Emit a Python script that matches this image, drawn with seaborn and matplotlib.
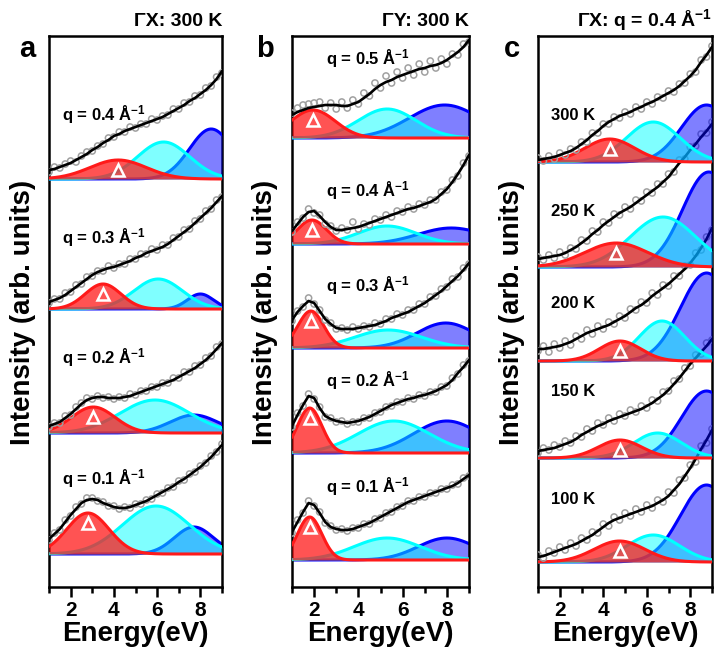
import numpy as np
import matplotlib
matplotlib.use('Agg')
from matplotlib import pyplot as plt
import seaborn as sns

sns.set_theme(style='ticks')
plt.rcParams['font.family'] = ['Liberation Sans', 'DejaVu Sans']
plt.rcParams['font.weight'] = 'bold'
plt.rcParams['text.color'] = 'black'
plt.rcParams['axes.labelcolor'] = 'black'
plt.rcParams['xtick.color'] = 'black'
plt.rcParams['mathtext.fontset'] = 'custom'
plt.rcParams['mathtext.rm'] = 'Liberation Sans:bold'
plt.rcParams['mathtext.it'] = 'Liberation Sans:bold'
plt.rcParams['mathtext.bf'] = 'Liberation Sans:bold'
plt.rcParams['mathtext.default'] = 'rm'

######## data (bottom spectrum first) #########

energy = [1.0, 1.25, 1.5, 1.75, 2.0, 2.25, 2.5, 2.75, 3.0, 3.25, 3.5, 3.75, 4.0,
          4.25, 4.5, 4.75, 5.0, 5.25, 5.5, 5.75, 6.0, 6.25, 6.5, 6.75, 7.0,
          7.25, 7.5, 7.75, 8.0, 8.25, 8.5, 8.75, 9.0]

# panel a: GX, 300 K
a_labels = ['q = 0.1 Å$^{-1}$', 'q = 0.2 Å$^{-1}$', 'q = 0.3 Å$^{-1}$', 'q = 0.4 Å$^{-1}$']
a_offsets = [33, 154, 278, 408]
a_fit = [
    [15, 20, 25, 32, 39, 45, 51, 54, 55, 54, 51, 49, 47, 46, 46, 47, 49, 51, 53, 56, 59, 62, 65, 68, 72, 75, 79, 83, 87, 92, 97, 103, 109],
    [7, 9, 11, 15, 19, 24, 29, 33, 35, 36, 36, 35, 35, 35, 36, 37, 39, 41, 43, 45, 47, 49, 51, 53, 56, 59, 62, 65, 69, 73, 78, 84, 90],
    [7, 9, 11, 14, 18, 22, 26, 30, 34, 37, 39, 41, 42, 44, 46, 48, 51, 53, 56, 58, 60, 62, 65, 69, 73, 77, 81, 86, 91, 96, 101, 107, 113],
    [9, 10, 12, 14, 16, 19, 22, 25, 29, 32, 36, 39, 43, 45, 48, 50, 52, 54, 56, 58, 60, 62, 65, 68, 71, 74, 78, 81, 85, 89, 94, 100, 108],
]
a_data = [
    [14, 21, 24, 34, 38, 47, 50, 56, 56, 53, 52, 48, 48, 45, 47, 46, 50, 50, 54, 55, 60, 61, 66, 67, 73, 74, 80, 82, 88, 91, 98, 102, 110],
    [6, 10, 10, 17, 18, 26, 30, 35, 34, 37, 35, 36, 34, 36, 35, 39, 38, 42, 42, 46, 46, 50, 50, 55, 55, 61, 61, 67, 68, 75, 77, 86, 89],
    [6, 10, 10, 16, 17, 24, 25, 32, 33, 38, 38, 43, 41, 45, 45, 50, 50, 55, 55, 60, 59, 64, 64, 71, 72, 79, 80, 88, 90, 98, 100, 109, 112],
    [7, 12, 11, 15, 18, 17, 23, 27, 28, 33, 35, 41, 42, 47, 47, 52, 51, 55, 55, 60, 59, 63, 64, 70, 70, 76, 77, 83, 84, 91, 93, 102, 106],
]
# peaks: (centre eV, sigma eV, height)
a_red = [(2.8, 0.98, 41), (3.05, 1.0, 26), (3.5, 0.82, 25), (4.2, 1.3, 19)]
a_cyan = [(5.95, 1.55, 48), (5.9, 1.6, 33), (6.05, 1.12, 30), (6.3, 1.2, 37)]
a_blue = [(7.7, 0.9, 27), (7.7, 1.1, 18), (8.0, 0.6, 15), (8.5, 1.0, 50)]

# panel b: GY, 300 K
b_labels = ['q = 0.1 Å$^{-1}$', 'q = 0.2 Å$^{-1}$', 'q = 0.3 Å$^{-1}$', 'q = 0.4 Å$^{-1}$', 'q = 0.5 Å$^{-1}$']
b_offsets = [27, 134, 239, 343, 449]
b_fit = [
    [28, 38, 48, 57, 55, 47, 38, 33, 31, 30, 30, 31, 33, 35, 37, 40, 43, 46, 49, 52, 55, 58, 60, 62, 64, 66, 68, 70, 72, 74, 77, 81, 85],
    [27, 38, 48, 57, 55, 45, 37, 34, 32, 31, 30, 31, 32, 34, 36, 39, 42, 45, 48, 50, 52, 54, 55, 57, 58, 60, 62, 65, 68, 73, 80, 86, 93],
    [28, 36, 42, 47, 45, 37, 29, 24, 20, 19, 19, 19, 20, 21, 22, 23, 25, 27, 30, 32, 34, 36, 39, 42, 45, 49, 53, 57, 62, 67, 72, 78, 85],
    [13, 20, 27, 32, 33, 28, 22, 17, 14, 14, 15, 16, 17, 19, 21, 23, 25, 27, 29, 31, 33, 35, 36, 38, 40, 42, 45, 50, 55, 62, 70, 79, 89],
    [23, 26, 28, 30, 31, 32, 33, 33, 33, 32, 32, 34, 36, 40, 44, 49, 53, 56, 58, 61, 63, 65, 67, 69, 70, 72, 73, 75, 78, 82, 86, 91, 98],
]
b_data = [
    [27, 40, 47, 59, 54, 48, 37, 34, 30, 31, 29, 32, 32, 36, 36, 41, 42, 47, 48, 53, 54, 59, 59, 63, 63, 67, 67, 71, 71, 75, 76, 82, 84],
    [26, 40, 47, 59, 54, 46, 36, 35, 31, 32, 29, 31, 31, 35, 35, 40, 41, 46, 47, 51, 51, 55, 54, 58, 57, 61, 61, 66, 67, 75, 79, 88, 92],
    [27, 37, 41, 50, 44, 38, 28, 25, 19, 20, 18, 21, 19, 22, 21, 25, 24, 29, 29, 34, 33, 38, 38, 44, 44, 51, 52, 59, 61, 69, 71, 80, 84],
    [12, 22, 26, 35, 31, 29, 20, 18, 13, 16, 14, 22, 15, 20, 19, 25, 24, 29, 27, 33, 32, 37, 35, 40, 39, 44, 44, 52, 54, 64, 68, 81, 88],
    [25, 30, 33, 34, 35, 36, 30, 35, 29, 36, 30, 38, 34, 45, 42, 55, 50, 62, 55, 66, 60, 70, 63, 74, 66, 77, 70, 79, 74, 84, 83, 94, 96],
]
b_red = [(1.8, 0.55, 43), (1.8, 0.55, 45), (1.85, 0.58, 37), (1.9, 0.65, 24), (1.95, 1.0, 28)]
b_cyan = [(5.3, 1.5, 22), (5.6, 1.6, 32), (5.35, 1.5, 18), (5.3, 1.3, 18), (5.3, 1.3, 29)]
b_blue = [(8.0, 1.3, 22), (8.0, 1.5, 32), (7.95, 1.3, 25), (8.2, 1.5, 16), (7.9, 1.6, 33)]

# panel c: GX, q = 0.4, temperature series
c_labels = ['100 K', '150 K', '200 K', '250 K', '300 K']
c_offsets = [25, 129, 226, 320, 425]
c_fit = [
    [5, 6, 8, 10, 12, 14, 16, 18, 21, 24, 27, 31, 35, 39, 42, 44, 46, 48, 50, 52, 54, 56, 59, 62, 66, 72, 78, 86, 94, 103, 113, 122, 132],
    [7, 8, 9, 10, 12, 14, 16, 19, 23, 26, 29, 32, 34, 37, 39, 41, 43, 45, 47, 49, 52, 55, 59, 63, 68, 74, 80, 87, 94, 100, 106, 112, 119],
    [12, 12, 13, 14, 15, 17, 19, 22, 25, 28, 30, 32, 34, 36, 39, 42, 45, 49, 53, 56, 60, 65, 69, 73, 77, 82, 87, 92, 98, 105, 113, 122, 133],
    [8, 9, 10, 11, 12, 14, 17, 20, 24, 28, 33, 37, 42, 46, 50, 54, 57, 60, 64, 68, 72, 76, 80, 85, 90, 97, 104, 110, 117, 123, 130, 136, 143],
    [2, 3, 4, 5, 7, 9, 11, 14, 18, 22, 27, 31, 36, 40, 43, 46, 48, 50, 53, 55, 58, 60, 63, 66, 69, 72, 76, 81, 86, 92, 100, 107, 115],
]
c_data = [
    [7, 4, 11, 9, 15, 12, 19, 16, 24, 22, 30, 29, 38, 36, 45, 42, 49, 46, 53, 50, 57, 54, 62, 60, 70, 69, 82, 84, 97, 100, 116, 119, 133],
    [5, 10, 8, 13, 11, 17, 15, 22, 21, 29, 27, 35, 33, 40, 37, 44, 42, 48, 46, 52, 50, 58, 57, 66, 67, 77, 79, 90, 92, 103, 104, 115, 118],
    [10, 15, 9, 17, 13, 20, 16, 25, 22, 31, 27, 35, 32, 39, 37, 45, 43, 52, 51, 59, 58, 68, 66, 76, 75, 85, 85, 95, 96, 108, 111, 124, 131],
    [10, 7, 12, 9, 15, 12, 19, 18, 27, 26, 36, 35, 45, 44, 53, 52, 60, 58, 67, 66, 75, 74, 83, 83, 93, 95, 107, 108, 120, 121, 133, 134, 145],
    [4, 1, 6, 3, 9, 7, 13, 12, 20, 20, 29, 29, 38, 38, 45, 44, 50, 48, 55, 53, 60, 58, 65, 64, 71, 70, 78, 79, 88, 90, 102, 105, 116],
]
c_red = [(4.75, 1.17, 21), (4.77, 1.0, 18), (4.77, 0.95, 20), (4.6, 1.45, 24), (4.3, 1.14, 23)]
c_cyan = [(6.3, 1.2, 27), (6.5, 1.1, 25), (6.7, 1.05, 40), (6.75, 1.5, 50), (6.3, 1.23, 40)]
c_blue = [(8.75, 1.2, 77), (8.75, 1.15, 67), (8.75, 1.2, 88), (8.85, 1.2, 95), (8.75, 1.15, 57)]

efine = np.linspace(1, 9, 321)


def gauss(p):
    c, s, a = p
    return a * np.exp(-(efine - c) ** 2 / (2 * s ** 2))


def draw_panel(ax, labels, offsets, fit, data, red, cyan, blue, label_x, label_dy):
    x = np.array(energy)
    for i in range(len(labels)):
        base = offsets[i]
        z = 10 * i
        comps = [(blue[i], '#0000ff', 0.5), (cyan[i], '#00ffff', 0.5), (red[i], '#ff1a1a', 0.75)]
        for k, (p, col, alpha) in enumerate(comps):
            g = base + gauss(p)
            ax.fill_between(efine, base, g, color=col, alpha=alpha, lw=0, zorder=z + 2 * k + 1)
            ax.plot(efine, g, color=col, lw=2.2, zorder=z + 2 * k + 2)
        sns.scatterplot(x=x, y=np.array(data[i]) + base, ax=ax, s=20, marker='o',
                        facecolor='none', edgecolor='#a0a0a0', linewidth=1.1, zorder=z + 7)
        sns.lineplot(x=x, y=np.array(fit[i]) + base, ax=ax, color='black', lw=1.9,
                     sort=False, estimator=None, zorder=z + 8)
        c, s, a = red[i]
        ax.plot(c, base + a - 10, marker='^', ms=9, mfc='none', mec='white', mew=1.8, zorder=z + 9)
        ax.text(label_x, base + label_dy[i], labels[i], fontsize=12, fontweight='bold',
                ha='left', va='center', zorder=100)

    ax.set_xlim(1, 9)
    ax.set_ylim(0, 551)
    ax.set_xticks([2, 4, 6, 8])
    ax.set_xticks([1, 3, 5, 7, 9], minor=True)
    ax.set_yticks([])
    ax.tick_params(axis='x', which='major', direction='out', length=7, width=1.8,
                   labelsize=15, pad=3, colors='black')
    ax.tick_params(axis='x', which='minor', direction='out', length=4, width=1.8, colors='black')
    for lab in ax.get_xticklabels():
        lab.set_fontweight('bold')
    for sp in ax.spines.values():
        sp.set_visible(True)
        sp.set_linewidth(1.8)
        sp.set_color('black')
    ax.set_xlabel('Energy(eV)', fontsize=20, fontweight='bold', labelpad=1)
    ax.set_ylabel('')


W, H = 715, 657
fig = plt.figure(figsize=(W / 100, H / 100), dpi=100)

boxes = [(49, 222), (292, 469), (538, 712)]
axes = []
for x0, x1 in boxes:
    axes.append(fig.add_axes([x0 / W, (H - 587) / H, (x1 - x0) / W, 551 / H]))

draw_panel(axes[0], a_labels, a_offsets, a_fit, a_data, a_red, a_cyan, a_blue,
           1.6, [75, 75, 71, 64])
draw_panel(axes[1], b_labels, b_offsets, b_fit, b_data, b_red, b_cyan, b_blue,
           2.55, [73, 72, 62, 53, 79])
draw_panel(axes[2], c_labels, c_offsets, c_fit, c_data, c_red, c_cyan, c_blue,
           1.6, [62, 66, 58, 56, 47])

titles = ['ΓX: 300 K', 'ΓY: 300 K', 'ΓX: q = 0.4 Å$^{-1}$']
letters = ['a', 'b', 'c']
letter_x = [27, 265, 512]
ylabel_x = [23, 265, 512]
for ax, t, l, lx, yx in zip(axes, titles, letters, letter_x, ylabel_x):
    ax.set_title(t, loc='right', fontsize=14, fontweight='bold', pad=7, color='black')
    fig.text(lx / W, 1 - 49 / H, l, fontsize=21, fontweight='bold', ha='center', va='center')
    fig.text(yx / W, 1 - 312 / H, 'Intensity (arb. units)', fontsize=20, fontweight='bold',
             rotation=90, ha='center', va='center')

plt.savefig('out.png', dpi=100)
